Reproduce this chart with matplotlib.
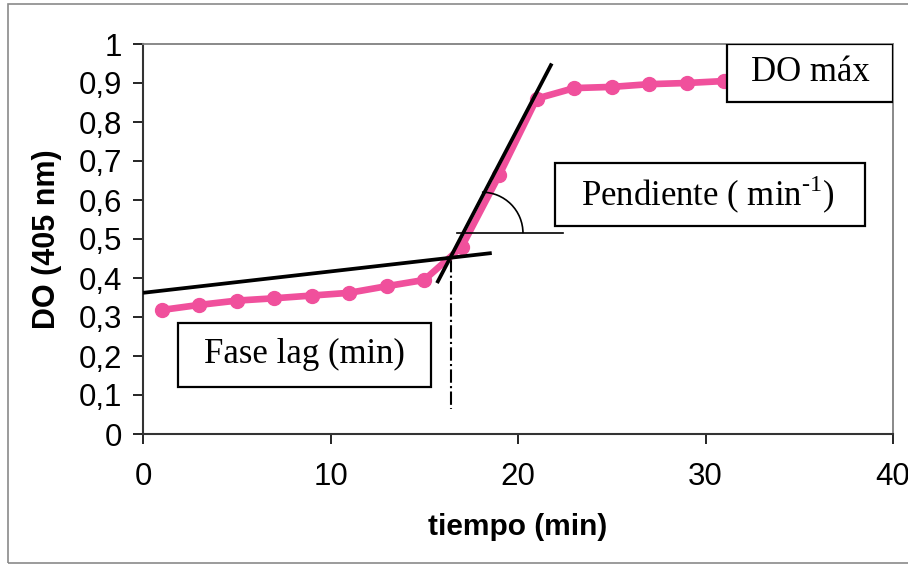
import numpy as np
import matplotlib.pyplot as plt
from matplotlib.patches import Rectangle, Arc

# Datos
tiempo = [1, 3, 5, 7, 9, 11, 13, 15, 17, 19, 21, 23, 25, 27, 29, 31]
do_405 = [0.318, 0.331, 0.342, 0.348, 0.355, 0.362, 0.379, 0.395,
          0.48, 0.664, 0.86, 0.887, 0.89, 0.897, 0.90, 0.905]

# tangentes
lag_x = [0, 18.6]
lag_y = [0.362, 0.464]
pend_x = [15.68, 21.8]
pend_y = [0.387, 0.95]
x_lag = 16.45

x_ticks = [0, 10, 20, 30, 40]
y_ticks = [0, 0.1, 0.2, 0.3, 0.4, 0.5, 0.6, 0.7, 0.8, 0.9, 1]
y_labels = ["0", "0,1", "0,2", "0,3", "0,4", "0,5", "0,6", "0,7", "0,8", "0,9", "1"]

plt.rcParams['font.family'] = 'Liberation Sans'
plt.rcParams['mathtext.fontset'] = 'custom'
plt.rcParams['mathtext.rm'] = 'Liberation Serif'

W, H = 908, 567
fig = plt.figure(figsize=(W / 100, H / 100), dpi=100)
ax = fig.add_axes([143 / W, 1 - 434 / H, (893 - 143) / W, (434 - 44) / H])

# borde exterior del grafico
fig.patches.append(Rectangle((8 / W, 4 / H), 1.2, (563 - 4) / H, transform=fig.transFigure,
                             fill=False, edgecolor='#8a8a8a', lw=1.2))

pink = '#F0509C'
ax.plot(tiempo, do_405, color=pink, lw=4.8, marker='o', ms=10, zorder=3)

ax.plot(lag_x, lag_y, color='black', lw=2.7, zorder=4, solid_capstyle='butt')
ax.plot(pend_x, pend_y, color='black', lw=2.7, zorder=4, solid_capstyle='butt')
ax.plot([x_lag, x_lag], [0.45, 0.065], color='black', lw=1.5, ls='-.', zorder=2)

# angulo de la pendiente
ax.plot([16.72, 22.4], [0.515, 0.515], color='black', lw=1.2, zorder=4)
ax.add_patch(Arc((18.08, 0.515), 4.37, 0.21, theta1=0, theta2=92, color='black', lw=1.2, zorder=4))

# cuadros de texto
boxes = [
    ((31.15, 0.851), 8.85, 0.15, (35.6, 0.926), "DO máx"),
    ((21.97, 0.533), 16.53, 0.162, (30.1, 0.612), "Pendiente ( min$^{\\mathregular{\u2010}1}$)"),
    ((1.87, 0.1205), 13.49, 0.1645, (8.6, 0.203), "Fase lag (min)"),
]
for (xy, w, h, txy, txt) in boxes:
    ax.add_patch(Rectangle(xy, w, h, facecolor='white', edgecolor='black', lw=1.6, zorder=5))
    ax.text(txy[0], txy[1], txt, family='Liberation Serif', fontsize=25,
            ha='center', va='center', zorder=6)

ax.set_xlim(0, 40)
ax.set_ylim(0, 1)
ax.set_xticks(x_ticks)
ax.set_yticks(y_ticks)
ax.set_yticklabels(y_labels)
ax.tick_params(labelsize=22.5, length=7, width=1.2, direction='out', pad=8)
ax.tick_params(axis='x', pad=13)

for s in ['left', 'bottom']:
    ax.spines[s].set_color('#333333')
    ax.spines[s].set_linewidth(1.5)
for s in ['top', 'right']:
    ax.spines[s].set_color('#808080')
    ax.spines[s].set_linewidth(1.3)

ax.set_xlabel("tiempo (min)", fontsize=21.5, fontweight='bold', labelpad=15)
ax.set_ylabel("DO (405 nm)", fontsize=22, fontweight='bold', labelpad=12)

plt.savefig("out.png", dpi=100)
